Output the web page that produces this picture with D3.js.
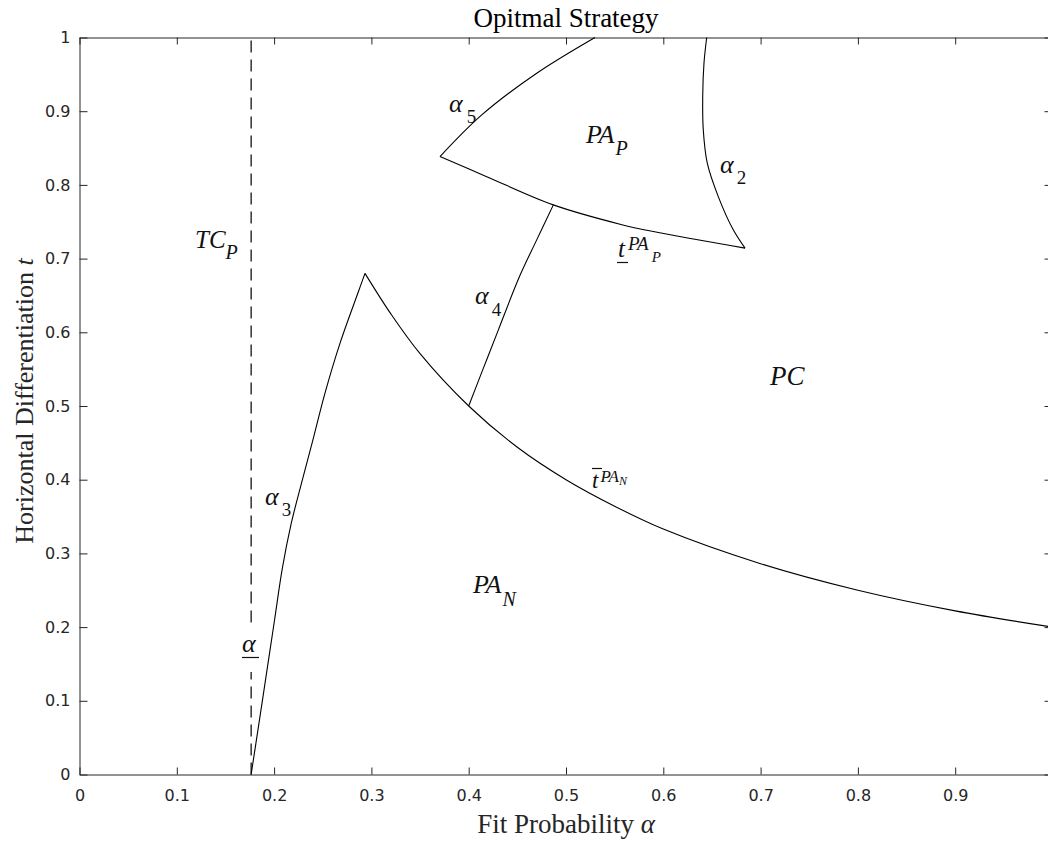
<!DOCTYPE html>
<html><head><meta charset="utf-8">
<script src="https://cdn.jsdelivr.net/npm/d3@7"></script>
<style>body{margin:0;background:#fff}svg{display:block}</style>
</head><body>
<svg id="chart" width="1048" height="841"></svg>
<script>
// ---------- data ----------
const xTicks = [0,0.1,0.2,0.3,0.4,0.5,0.6,0.7,0.8,0.9,1];
const xTickLabels = ["0","0.1","0.2","0.3","0.4","0.5","0.6","0.7","0.8","0.9","1"];
const yTicks = [0,0.1,0.2,0.3,0.4,0.5,0.6,0.7,0.8,0.9,1];
const yTickLabels = ["0","0.1","0.2","0.3","0.4","0.5","0.6","0.7","0.8","0.9","1"];

const alphaLow = 0.1764;                      // dashed boundary (alpha underbar)
const alphaLowSpan = [0, 1];

// alpha3 : [alpha, t]
const alpha3Curve = [[0.1764,0],[0.1845,0.07],[0.1925,0.14],[0.2005,0.21],[0.2085,0.28],
  [0.2175,0.34],[0.2275,0.392],[0.2395,0.452],[0.2523,0.5175],[0.2677,0.585],[0.2866,0.655],[0.2934,0.680]];
// upper bound of PA_N
const tBarPAN = [[0.2934,0.680],[0.32,0.625],[0.35,0.571],[0.4,0.5],[0.45,0.444],[0.5,0.4],
  [0.55,0.364],[0.6,0.333],[0.7,0.286],[0.8,0.25],[0.9,0.222],[1.0,0.2]];
// alpha4
const alpha4Curve = [[0.4,0.5],[0.415,0.551],[0.4304,0.603],[0.4522,0.6757],[0.4699,0.7254],[0.487,0.7729]];
// lower bound of PA_P
const tUnderPAP = [[0.3705,0.8384],[0.4185,0.8112],[0.487,0.7729],[0.5555,0.7467],[0.5897,0.7367],[0.684,0.7142]];
// alpha2
const alpha2Curve = [[0.684,0.7142],[0.6719,0.739],[0.6565,0.7841],[0.6452,0.8294],[0.6411,0.8746],
  [0.6405,0.9197],[0.6418,0.965],[0.6446,1.0]];
// alpha5
const alpha5Curve = [[0.3705,0.8384],[0.4134,0.8949],[0.4699,0.9515],[0.5298,1.0]];

// ---------- layout ----------
const svg = d3.select("#chart");
const X0 = 79.5, X1 = 1052.5, Y0 = 774.5, Y1 = 37.5;
const x = d3.scaleLinear().domain([0,1]).range([X0,X1]);
const y = d3.scaleLinear().domain([0,1]).range([Y0,Y1]);
const axisColor = "#262626";
const tickFont = "'DejaVu Sans', sans-serif";
const serif = "'Liberation Serif', 'Times New Roman', serif";

function styleAxis(g){
  g.select(".domain").attr("stroke",axisColor).attr("stroke-width",1);
  g.selectAll(".tick line").attr("stroke",axisColor);
  g.selectAll(".tick text").attr("fill",axisColor).attr("font-family",tickFont).attr("font-size",16);
}
svg.append("g").attr("transform",`translate(0,${Y0})`)
  .call(d3.axisBottom(x).tickValues(xTicks).tickFormat((d,i)=>xTickLabels[i]).tickSizeInner(-7).tickSizeOuter(0).tickPadding(15))
  .call(styleAxis);
svg.append("g").attr("transform",`translate(0,${Y1})`)
  .call(d3.axisTop(x).tickValues(xTicks).tickFormat("").tickSizeInner(-7).tickSizeOuter(0))
  .call(styleAxis);
svg.append("g").attr("transform",`translate(${X0},0)`)
  .call(d3.axisLeft(y).tickValues(yTicks).tickFormat((d,i)=>yTickLabels[i]).tickSizeInner(-8).tickSizeOuter(0).tickPadding(9))
  .call(styleAxis);
svg.append("g").attr("transform",`translate(${X1},0)`)
  .call(d3.axisRight(y).tickValues(yTicks).tickFormat("").tickSizeInner(-8).tickSizeOuter(0))
  .call(styleAxis);

// ---------- curves ----------
const line = d3.line().x(d=>x(d[0])).y(d=>y(d[1])).curve(d3.curveCatmullRom.alpha(0.5));
svg.append("line")
  .attr("x1",x(alphaLow)).attr("x2",x(alphaLow))
  .attr("y1",y(alphaLowSpan[0])).attr("y2",y(alphaLowSpan[1]))
  .attr("stroke","#000").attr("stroke-width",1.2).attr("stroke-dasharray","12,7");
[alpha3Curve,tBarPAN,alpha4Curve,tUnderPAP,alpha2Curve,alpha5Curve].forEach(c=>{
  svg.append("path").attr("d",line(c)).attr("fill","none").attr("stroke","#000").attr("stroke-width",1.1);
});

// white box behind alpha-underbar label
svg.append("rect").attr("x",x(alphaLow)-6).attr("y",629).attr("width",12).attr("height",43).attr("fill","#fff");

// ---------- labels ----------
function label(px, py, parts){
  const t = svg.append("text").attr("x",px).attr("y",py).attr("font-family",serif).attr("fill","#111");
  parts.forEach(p=>{
    t.append("tspan").attr("font-size",p.fs).attr("font-style",p.it===false?"normal":"italic")
      .attr("dx",p.dx||0).attr("dy",p.dy||0).text(p.t);
  });
}
label(195,248,[{t:"TC",fs:25},{t:"P",fs:20,dx:0,dy:11}]);
label(449,112,[{t:"α",fs:26},{t:"5",fs:19,it:false,dx:4,dy:11}]);
label(586,143,[{t:"PA",fs:26},{t:"P",fs:20,dx:1,dy:12}]);
label(720,173,[{t:"α",fs:26},{t:"2",fs:19,it:false,dx:3,dy:11}]);
label(475,304,[{t:"α",fs:26},{t:"4",fs:19,it:false,dx:3,dy:12}]);
label(618,257,[{t:"t",fs:25},{t:"PA",fs:19,dx:3,dy:-7},{t:"P",fs:15,dx:3,dy:12}]);
svg.append("line").attr("x1",617).attr("x2",628).attr("y1",262.5).attr("y2",262.5).attr("stroke","#111").attr("stroke-width",1.2);
label(770,385,[{t:"PC",fs:27}]);
label(592,488,[{t:"t",fs:23},{t:"PA",fs:17,dx:2,dy:-6},{t:"N",fs:12,dx:0,dy:3}]);
svg.append("line").attr("x1",592).attr("x2",602).attr("y1",468.5).attr("y2",468.5).attr("stroke","#111").attr("stroke-width",1.2);
label(265,505,[{t:"α",fs:26},{t:"3",fs:19,it:false,dx:3,dy:11}]);
label(473,593,[{t:"PA",fs:26},{t:"N",fs:20,dx:1,dy:13}]);
label(242,652,[{t:"α",fs:26}]);
svg.append("line").attr("x1",242).attr("x2",259).attr("y1",657.5).attr("y2",657.5).attr("stroke","#111").attr("stroke-width",1.2);

// ---------- titles ----------
svg.append("text").attr("x",(X0+X1)/2).attr("y",27).attr("text-anchor","middle")
  .attr("font-family",serif).attr("font-size",27).attr("fill","#000").text("Opitmal Strategy");
const xl = svg.append("text").attr("x",(X0+X1)/2).attr("y",833).attr("text-anchor","middle")
  .attr("font-family",serif).attr("font-size",27).attr("fill","#262626");
xl.append("tspan").text("Fit Probability ");
xl.append("tspan").attr("font-style","italic").text("α");
const yl = svg.append("text").attr("transform","translate(33,401) rotate(-90)").attr("text-anchor","middle")
  .attr("font-family",serif).attr("font-size",26).attr("fill","#262626");
yl.append("tspan").text("Horizontal Differentiation ");
yl.append("tspan").attr("font-style","italic").text("t");
</script>
</body></html>
